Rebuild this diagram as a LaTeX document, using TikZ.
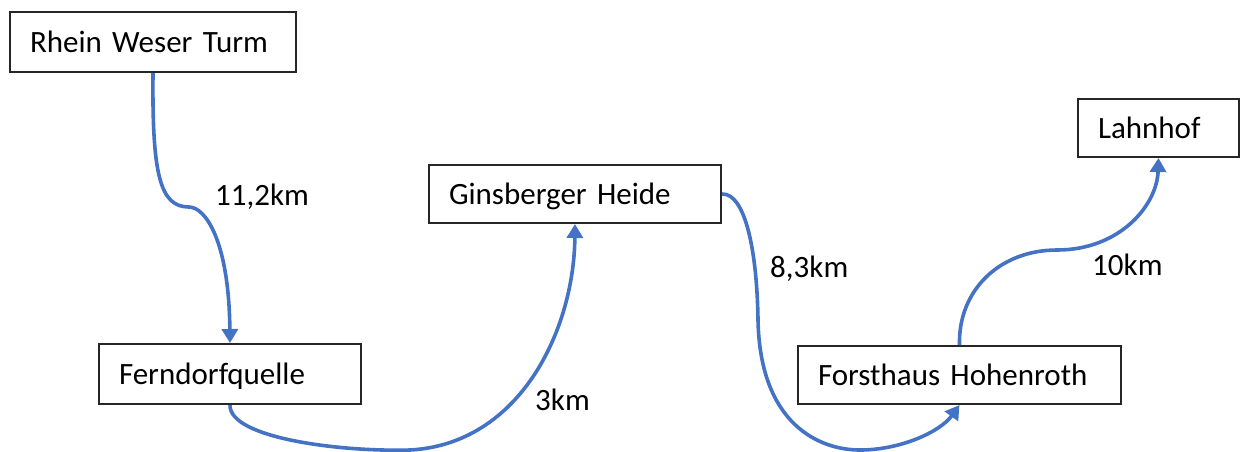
\documentclass[tikz,border=0pt]{standalone}
\usepackage{fontspec}
\setmainfont{Carlito}
\usetikzlibrary{arrows.meta}
\definecolor{lineblue}{HTML}{4472C4}
\begin{document}
\begin{tikzpicture}[x=1pt,y=-1pt,
  place/.style={draw=black!85,line width=2pt,rectangle,anchor=north west,
    inner xsep=20pt,inner ysep=0pt,minimum height=#1,text height=20pt,text depth=0pt,
    align=left,font=\fontsize{31}{37}\selectfont},
  dist/.style={anchor=base west,inner sep=0pt,font=\fontsize{31}{37}\selectfont},
  route/.style={draw=lineblue,line width=3.6pt,-{Triangle[width=16pt,length=14pt]}}]
\useasboundingbox (0,0) rectangle (1241,451);
\node[place=60pt,text width=246pt] (rwt) at (9,11) {Rhein Weser Turm};
\node[place=60pt,text width=222pt] (fq) at (98,343) {Ferndorfquelle};
\node[place=58pt,text width=252pt] (gh) at (428,164) {Ginsberger Heide};
\node[place=58pt,text width=283pt] (fh) at (797,345) {Forsthaus Hohenroth};
\node[place=58pt,text width=121pt] (lh) at (1077,98) {Lahnhof};
\coordinate (k1) at (189,207);
\coordinate (k2) at (410,450);
\coordinate (k3) at (758,320);
\coordinate (k4) at (860,450);
\coordinate (k5) at (1057,250);
\draw[route] (rwt.south) .. controls (152,175) and (160,207) .. (k1)
  .. controls (205,207) and (229,240) .. (fq.north);
\draw[route] (fq.south) .. controls (229,438) and (340,452) .. (k2)
  .. controls (520,444) and (574,330) .. (gh.south);
\draw[route] (gh.east) .. controls (745,193) and (757,250) .. (k3)
  .. controls (760,425) and (820,450) .. (k4)
  .. controls (900,450) and (940,432) .. (fh.south);
\draw[route] (fh.north) .. controls (958,290) and (1000,250) .. (k5)
  .. controls (1120,250) and (1157,205) .. (lh.south);
\node[dist] (d1) at (215,205) {11,2km};
\node[dist] (d2) at (535,410) {3km};
\node[dist] (d3) at (770,277) {8,3km};
\node[dist] (d4) at (1092,275) {10km};
\end{tikzpicture}
\end{document}
